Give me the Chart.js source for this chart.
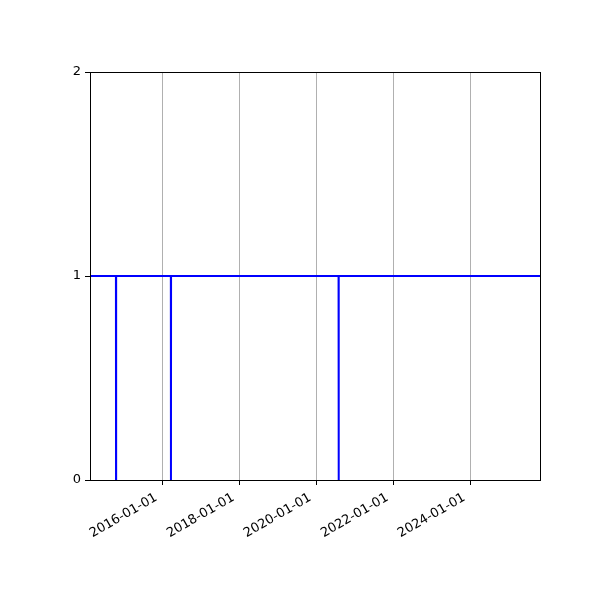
<!DOCTYPE html>
<html lang="en">
<head>
  <meta charset="UTF-8" />
  <title>Step series</title>
  <script src="https://cdn.jsdelivr.net/npm/chart.js"></script>
  <style>
    html, body { margin: 0; padding: 0; background: #fff; }
    #chart { display: block; }
  </style>
</head>
<body>
  <canvas id="chart" width="600" height="600"></canvas>

  <script>
    // data: flag is 1 everywhere except three single-day drops
    const dates = [
      '2014-02-14', '2014-10-18', '2014-10-19', '2014-10-20',
      '2016-03-22', '2016-03-23', '2016-03-24',
      '2020-07-30', '2020-07-31', '2020-08-01', '2025-10-23'
    ];
    const values = [1, 1, 0, 1, 1, 0, 1, 1, 0, 1, 1];
    const xTickLabels = ['2016-01-01', '2018-01-01', '2020-01-01', '2022-01-01', '2024-01-01'];
    const yTicks = [0, 1, 2];

    const DAY = 86400000;
    const toDay = s => Date.parse(s + 'T00:00:00Z') / DAY;
    const fmtDay = d => new Date(Math.round(d) * DAY).toISOString().slice(0, 10);

    const points = dates.map((d, i) => ({ x: toDay(d), y: values[i] }));
    const font = { family: 'DejaVu Sans', size: 13 };

    // matplotlib-style box round the plot area
    const frame = {
      id: 'frame',
      afterDraw(chart) {
        const { ctx, chartArea: a } = chart;
        ctx.save();
        ctx.strokeStyle = '#000';
        ctx.lineWidth = 1;
        ctx.strokeRect(a.left + 0.5, a.top + 0.5, a.right - a.left, a.bottom - a.top);
        ctx.restore();
      }
    };

    new Chart(document.getElementById('chart'), {
      type: 'line',
      data: {
        datasets: [{
          data: points,
          borderColor: '#0000ff',
          borderWidth: 2,
          pointRadius: 0,
          tension: 0,
          fill: false
        }]
      },
      options: {
        responsive: false,
        animation: false,
        layout: { padding: { top: 72, right: 60, left: 0, bottom: 0 } },
        plugins: { legend: { display: false }, tooltip: { enabled: false } },
        scales: {
          x: {
            type: 'linear',
            min: toDay(dates[0]),
            max: toDay(dates[dates.length - 1]),
            afterBuildTicks: s => { s.ticks = xTickLabels.map(t => ({ value: toDay(t) })); },
            afterFit: s => { s.height = 120; },
            ticks: {
              color: '#000',
              font,
              minRotation: 30,
              maxRotation: 30,
              padding: 5,
              labelOffset: -6,
              autoSkip: false,
              callback: v => fmtDay(v)
            },
            grid: { color: '#b0b0b0', lineWidth: 1, tickColor: '#000', tickLength: 5 },
            border: { color: '#000' }
          },
          y: {
            min: 0,
            max: 2,
            afterBuildTicks: s => { s.ticks = yTicks.map(v => ({ value: v })); },
            afterFit: s => { s.width = 90; },
            ticks: { color: '#000', font, padding: 4 },
            grid: { drawOnChartArea: false, tickColor: '#000', tickLength: 5 },
            border: { color: '#000' }
          }
        }
      },
      plugins: [frame]
    });
  </script>
</body>
</html>
